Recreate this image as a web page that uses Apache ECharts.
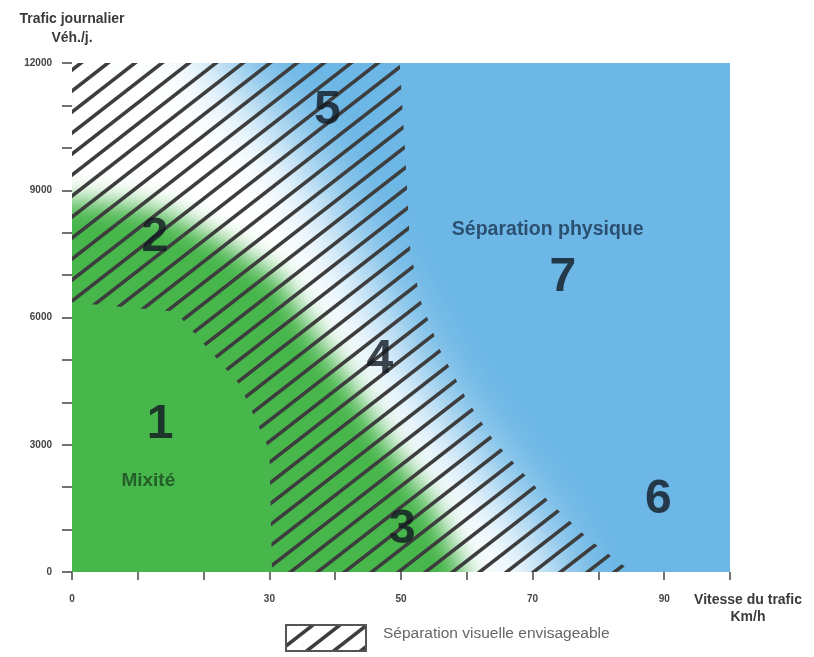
<!DOCTYPE html>
<html>
<head>
<meta charset="utf-8">
<title>Trafic journalier / vitesse</title>
<script src="https://cdn.jsdelivr.net/npm/echarts@6/dist/echarts.min.js"></script>
<style>
  html, body { margin: 0; padding: 0; background: #fff; }
  #chart { width: 814px; height: 657px; }
</style>
</head>
<body>
<div id="chart"></div>
<script>
// axis ticks / labels
const xLabelValues = [0, 30, 50, 70, 90];
const yLabelValues = [0, 3000, 6000, 9000, 12000];

// zone boundaries, [speed km/h, vehicles/day]
const greenEdge = [[0, 8787], [8.8, 8669], [14.4, 8480], [24.4, 7677], [32.1, 6897], [33.6, 6425],
  [38.8, 5244], [43.3, 4228], [48.3, 3000], [54.4, 1701], [59.7, 0]];
const whiteEdge = [[22, 12000], [30, 10800], [36, 9600], [40, 8400], [44, 7200], [48, 6000],
  [52, 4800], [57, 3600], [63, 2400], [69, 1200], [74, 0]];
const hatchOuter = [[49.8, 12000], [50.6, 9968], [51.4, 7606], [52.9, 6425], [55.9, 5244],
  [60.0, 4063], [64.0, 3118], [72.2, 1701], [78.7, 756], [85.1, 0]];
const hatchInner = [[30.4, 0], [30, 2882], [25.5, 4417], [15.7, 6142], [0, 6354]];

// zone labels
const zoneNames = ['1', '2', '3', '4', '5', '6', '7'];
const zonePos = [[13.4, 3472], [12.6, 7889], [50.2, 992], [46.8, 5007], [38.8, 10866], [89.1, 1701], [74.6, 6944]];
const textNames = ['Mixité', 'Séparation physique'];
const textPos = [[11.6, 2149], [72.3, 8078]];

const BLUE = '#6cb7e6';
const GREEN = '#47b64b';

function makeHatch() {
  const c = document.createElement('canvas');
  c.width = 27; c.height = 21;
  const ctx = c.getContext('2d');
  ctx.strokeStyle = '#3d3d3d';
  ctx.lineWidth = 3.6;
  for (let k = -1; k <= 1; k++) {
    ctx.beginPath();
    ctx.moveTo(k * 27 - 27, 42);
    ctx.lineTo(k * 27 + 54, -21);
    ctx.stroke();
  }
  return c;
}
const hatch = { image: makeHatch(), repeat: 'repeat' };

// polygon series; soft ones are drawn off to the side and only their blurred shadow lands in place
const SHIFT = 3000;
function zoneSeries(pts, style, z, soft) {
  return {
    type: 'custom',
    clip: true,
    silent: true,
    z: z,
    data: [[0, 0]],
    renderItem: function (params, api) {
      const points = pts.map(p => {
        const c = api.coord(p);
        return soft ? [c[0] - SHIFT, c[1]] : c;
      });
      return { type: 'polygon', shape: { points: points }, style: style };
    }
  };
}

const whitePoly = [[-15, -1500], [75, -1500]].concat(whiteEdge.slice().reverse(), [[21, 13500], [-15, 13500]]);
const greenPoly = [[-15, -1500], [60.5, -1500]].concat(greenEdge.slice().reverse(), [[-15, 8800]]);
const hatchPoly = [[-5, 13000], [49.8, 13000]].concat(hatchOuter, [[85.5, -800], [30.4, -800]], hatchInner, [[-5, 6354]]);

const chart = echarts.init(document.getElementById('chart'));

const labelFont = 'Liberation Sans, Arial, sans-serif';

const option = {
  animation: false,
  backgroundColor: '#fff',
  grid: {
    left: 72, right: 84, top: 63, bottom: 85,
    show: true, backgroundColor: BLUE, borderWidth: 0,
    outerBoundsMode: 'none'
  },
  xAxis: {
    type: 'value', min: 0, max: 100, interval: 10,
    name: 'Vitesse du trafic\nKm/h',
    nameLocation: 'end', nameGap: 18,
    nameTextStyle: { fontFamily: labelFont, fontWeight: 'bold', fontSize: 14, color: '#3a3a3a',
      align: 'center', verticalAlign: 'top', lineHeight: 17, padding: [20, 0, 0, 0] },
    axisLine: { show: false },
    axisTick: { show: true, length: 8, lineStyle: { color: '#444', width: 1.5 } },
    splitLine: { show: false },
    axisLabel: {
      margin: 22, fontFamily: labelFont, fontWeight: 'bold', fontSize: 10, color: '#444',
      formatter: v => xLabelValues.includes(v) ? String(v) : ''
    }
  },
  yAxis: {
    type: 'value', min: 0, max: 12000, interval: 1000,
    name: 'Trafic journalier\nVéh./j.',
    nameLocation: 'end', nameGap: 15,
    nameTextStyle: { fontFamily: labelFont, fontWeight: 'bold', fontSize: 14, color: '#3a3a3a',
      align: 'center', lineHeight: 19 },
    axisLine: { show: false },
    axisTick: { show: true, length: 10, lineStyle: { color: '#444', width: 1.5 } },
    splitLine: { show: false },
    axisLabel: {
      margin: 20, fontFamily: labelFont, fontWeight: 'bold', fontSize: 10, color: '#444',
      formatter: v => yLabelValues.includes(v) ? String(v) : ''
    }
  },
  series: [
    zoneSeries(whitePoly, { fill: '#ffffff', shadowColor: '#ffffff', shadowBlur: 66, shadowOffsetX: SHIFT }, 1, true),
    zoneSeries(greenPoly, { fill: GREEN, shadowColor: GREEN, shadowBlur: 26, shadowOffsetX: SHIFT }, 2, true),
    zoneSeries(hatchPoly, { fill: hatch }, 3, false),
    {
      type: 'scatter', z: 5, silent: true, symbolSize: 0,
      data: zoneNames.map((n, i) => ({ name: n, value: zonePos[i] })),
      label: {
        show: true, position: 'inside', formatter: '{b}',
        fontFamily: labelFont, fontWeight: 'bold', fontSize: 48, color: '#111820'
      }
    },
    {
      type: 'scatter', z: 5, silent: true, symbolSize: 0,
      data: textNames.map((n, i) => ({
        name: n, value: textPos[i],
        label: i === 0 ? { color: '#1b4a1f', fontSize: 19 } : { color: '#1c3553', fontSize: 19.5 }
      })),
      label: {
        show: true, position: 'inside', formatter: '{b}',
        fontFamily: labelFont, fontWeight: 'bold'
      }
    }
  ],
  graphic: [
    {
      type: 'rect', left: 285, top: 624, z: 10,
      shape: { width: 80, height: 26 },
      style: { fill: hatch, stroke: '#555', lineWidth: 2 }
    },
    {
      type: 'text', left: 383, top: 626, z: 10,
      style: { text: 'Séparation visuelle envisageable', fill: '#666', font: '15.5px ' + labelFont }
    }
  ]
};

chart.setOption(option);
</script>
</body>
</html>
